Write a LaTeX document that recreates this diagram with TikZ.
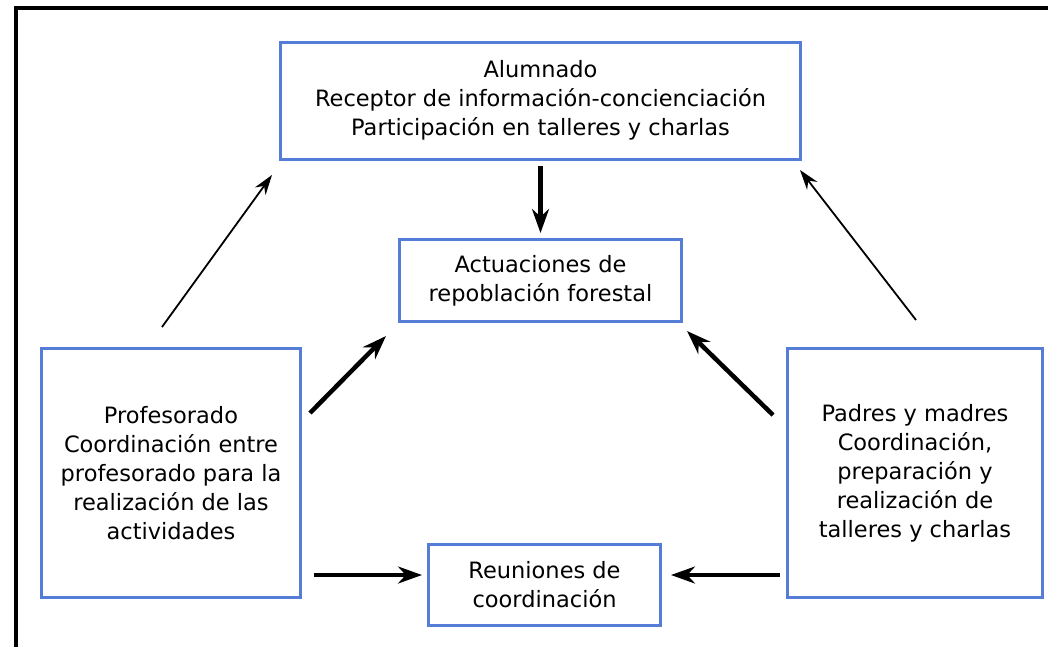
\documentclass[tikz,border=0pt]{standalone}
\usepackage{fontspec}
\setmainfont{DejaVu Sans}
\usetikzlibrary{arrows.meta}
\definecolor{boxblue}{RGB}{85,125,215}
\begin{document}
\begin{tikzpicture}[x=1pt,y=-1pt,
  box/.style={draw=boxblue,line width=3pt,align=center,inner sep=0pt,
    font=\fontsize{22.5}{29}\selectfont},
  thinarrow/.style={line width=1.8pt,-{Stealth[length=20pt,width=13pt]}},
  thickarrow/.style={line width=4.5pt,-{Stealth[length=24pt,width=17pt]}},
  framestyle/.style={line width=4pt}]
\useasboundingbox (0,0) rectangle (1048,646);
\draw[framestyle] (16,660) -- (16,8) -- (1060,8);

\node[box,minimum width=520pt,minimum height=117pt] (alum) at (540.5,100.5)
  {Alumnado\\Receptor de información-concienciación\\Participación en talleres y charlas};
\node[box,minimum width=282pt,minimum height=82pt] (act) at (540.5,280.5)
  {Actuaciones de\\repoblación forestal};
\node[box,minimum width=259pt,minimum height=249pt] (prof) at (171,473)
  {Profesorado\\Coordinación entre\\profesorado para la\\realización de las\\actividades};
\node[box,minimum width=255pt,minimum height=249pt] (pad) at (915,473)
  {Padres y madres\\Coordinación,\\preparación y\\realización de\\talleres y charlas};
\node[box,minimum width=232pt,minimum height=81pt] (reu) at (544.5,585)
  {Reuniones de\\coordinación};

\coordinate (pa1) at (162,327);
\coordinate (pa2) at (272,175);
\coordinate (pc1) at (310,413);
\coordinate (pc2) at (386,336);
\coordinate (da1) at (916,320);
\coordinate (da2) at (800,170);
\coordinate (dc1) at (773,415);
\coordinate (dc2) at (687,331);
\coordinate (pr1) at (314,575);
\coordinate (pr2) at (422,575);
\coordinate (dr1) at (780,575);
\coordinate (dr2) at (671,575);

\draw[thickarrow,shorten <=5pt,shorten >=5pt] (alum.south) -- (act.north);
\draw[thinarrow] (pa1) -- (pa2);
\draw[thickarrow] (pc1) -- (pc2);
\draw[thinarrow] (da1) -- (da2);
\draw[thickarrow] (dc1) -- (dc2);
\draw[thickarrow,line width=3.5pt] (pr1) -- (pr2);
\draw[thickarrow,line width=3.5pt] (dr1) -- (dr2);
\end{tikzpicture}
\end{document}
